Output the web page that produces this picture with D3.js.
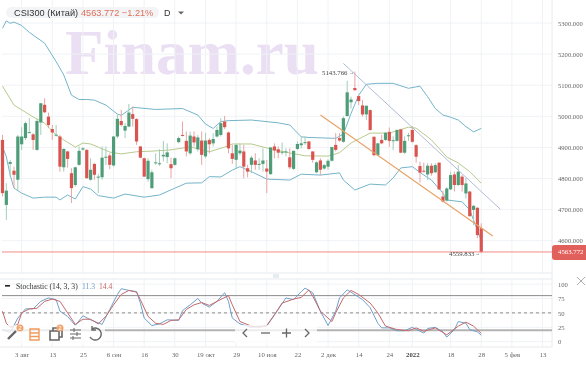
<!DOCTYPE html>
<html>
<head>
<meta charset="utf-8">
<script src="https://cdn.jsdelivr.net/npm/d3@7"></script>
<style>
    html, body { margin: 0; padding: 0; background: #fff; overflow: hidden; }
    svg { display: block; filter: blur(0.4px); }
    .serif { font-family: "Liberation Serif", serif; }
    .sans { font-family: "Liberation Sans", sans-serif; }
</style>
</head>
<body>
<div id="chart"></div>
<script>
const opens = [4924,4715,4847,4825,4796,4910,4930,4947,4942,4892,4980,5037,4999,4959,4939,4935,4836,4887,4817,4779,4844,4893,4892,4796,4847,4804,4804,4868,4874,4842,4935,4985,4954,4967,5007,4991,4903,4865,4798,4769,4849,4847,4871,4869,4846,4844,4917,4940,4921,4881,4935,4894,4922,4871,4924,4913,4935,4940,4983,4948,4881,4860,4881,4887,4833,4844,4858,4845,4847,4832,4814,4903,4894,4884,4885,4868,4831,4895,4907,4915,4919,4887,4820,4858,4832,4838,4857,4908,4930,4918,5001,5045,5091,5065,5035,5006,5020,4934,4875,4924,4924,4950,4921,4921,4958,4883,4936,4956,4907,4840,4825,4813,4841,4820,4851,4742,4729,4765,4813,4779,4806,4752,4758,4699,4706,4640];
const highs = [4940,4785,4860,4838,4940,4965,4983,4994,4946,4991,5042,5058,5012,4972,4972,4940,4897,4889,4833,4838,4903,4901,4894,4865,4849,4815,4903,4903,4881,4937,5005,5021,4978,5040,5031,4994,4905,4867,4865,4828,4881,4894,4921,4913,4867,4868,4935,4983,4951,4951,4951,4940,4951,4946,4930,4946,4967,4994,5001,4951,4908,4911,4913,4908,4844,4873,4881,4865,4897,4860,4900,4913,4903,4916,4897,4897,4889,4919,4935,4935,4921,4887,4855,4865,4847,4862,4901,4946,4946,5000,5114,5063,5143.766,5068,5052,5034,5022,4936,4915,4940,4950,4964,4936,4958,4960,4936,4947,4969,4910,4854,4851,4849,4849,4849,4851,4761,4772,4822,4822,4843,4811,4801,4760,4715,4707,4656];
const lows = [4742,4667,4806,4769,4763,4892,4924,4946,4892,4889,4940,5010,4962,4924,4935,4822,4822,4835,4721,4774,4841,4890,4799,4793,4796,4753,4796,4844,4830,4838,4930,4967,4930,4965,4967,4908,4865,4806,4790,4767,4844,4841,4855,4849,4801,4841,4913,4935,4871,4876,4903,4887,4844,4865,4881,4903,4932,4935,4959,4881,4847,4833,4874,4801,4804,4817,4828,4828,4822,4753,4812,4865,4865,4876,4871,4830,4828,4892,4897,4908,4892,4851,4817,4810,4828,4828,4855,4887,4919,4915,4999,5025,5082,5036,4999,4988,4954,4872,4872,4910,4921,4902,4891,4919,4881,4879,4921,4915,4851,4787,4819,4795,4809,4817,4763,4723,4726,4763,4758,4776,4758,4736,4677,4650,4608,4559.833];
const closes = [4753,4761,4853,4812,4935,4935,4978,4949,4924,4985,5042,5013,4972,4948,4941,4838,4895,4863,4769,4836,4889,4897,4801,4828,4812,4806,4867,4870,4844,4935,4992,4972,4969,5012,4992,4919,4867,4806,4857,4820,4852,4849,4876,4884,4833,4865,4930,4938,4887,4938,4916,4932,4876,4922,4910,4927,4956,4978,4965,4897,4863,4908,4890,4838,4822,4867,4844,4847,4858,4822,4900,4890,4883,4886,4887,4836,4889,4911,4913,4917,4895,4860,4852,4828,4843,4857,4901,4892,4922,4994,5077,5054,5084,5049,5006,5034,4956,4875,4913,4913,4947,4921,4923,4956,4883,4921,4939,4918,4870,4819,4823,4841,4817,4843,4765,4726,4768,4811,4779,4822,4779,4784,4679,4712,4618,4563.772];

const upperIdx = [0,1,2,3,5,7,11,14,16,18,20,22,24,27,30,31,34,40,47,51,53,55,57,59,65,72,75,78,80,87,89,91,93,95,98,102,106,109,111,113,115,117,119,121,123,125];
const upperVal = [5283,5307,5299,5303,5292,5270,5235,5176,5133,5068,5054,5054,5052,5036,5007,5003,5029,5022,5025,5004,4975,4961,4983,4986,4988,4979,4972,4934,4932,4929,4943,5009,5068,5103,5106,5106,5090,5097,5063,5025,5004,4997,4988,4967,4950,4961];
const middleIdx = [0,3,8,11,14,16,19,21,23,25,28,31,35,39,44,49,54,58,60,65,70,75,79,85,88,91,96,101,106,108,112,116,119,122,125];
const middleVal = [5097,5036,4998,4978,4940,4924,4901,4914,4911,4901,4885,4879,4886,4888,4892,4902,4886,4901,4911,4911,4895,4882,4873,4872,4883,4914,4946,4946,4965,4962,4924,4869,4850,4822,4785];
const lowerIdx = [0,1,2,3,5,8,11,14,15,17,19,21,23,25,29,32,37,41,45,48,52,54,57,60,62,65,69,75,78,83,88,89,92,96,100,102,104,107,110,112,115,116,120,122,123,124,125];
const lowerVal = [4902,4870,4811,4769,4753,4737,4740,4740,4731,4747,4734,4774,4766,4745,4737,4750,4740,4747,4769,4785,4786,4806,4805,4827,4838,4822,4798,4795,4814,4811,4818,4795,4763,4782,4779,4802,4834,4838,4811,4795,4753,4731,4725,4699,4666,4634,4600];

const kIdx = [0,2,4,6,8,10,12,14,15,17,19,21,23,26,28,30,31,33,35,36,37,39,41,43,46,47,49,51,52,54,56,58,59,60,62,65,67,69,72,74,76,78,79,81,83,85,87,88,90,91,94,96,98,99,101,103,105,107,110,111,113,115,116,118,119,121,122,124,125];
const kVal = [21,16,41,57,57,70,76,73,53,44,28,45,38,30,56,82,92,89,87,67,41,28,31,38,37,54,64,75,67,60,70,85,70,41,31,25,27,27,56,76,73,87,93,85,53,28,53,76,90,86,73,59,32,24,24,19,19,25,15,23,25,17,8,21,35,32,21,17,11.3];
const dIdx = [0,1,2,4,5,7,9,11,13,15,17,19,21,23,25,27,29,31,33,35,36,38,40,42,44,46,48,50,52,54,56,59,60,62,65,67,69,71,73,76,78,80,81,83,86,87,89,91,93,96,98,100,103,106,108,110,113,116,119,121,123,125];
const dVal = [53,32,25,30,50,57,58,70,74,70,50,30,39,39,31,44,64,82,89,86,73,44,32,30,37,38,56,64,68,63,70,80,64,35,27,25,28,47,67,74,77,90,79,53,35,50,76,89,82,67,50,27,21,19,24,18,24,12,27,34,27,14.4];

const priceTicks = [5300,5200,5100,5000,4900,4800,4700,4600];
const stochTicks = [100,75,50,25,0];
const stochLevels = [80,50,20];
const dateIdx = [5,13,21,29,37,45,53,61,69,77,85,93,101,107,117,125,133,141];
const dateLabels = ["3 авг","13","25","6 сен","16","30","19 окт","29","10 ноя","22","2 дек","14","24","2022","18","28","5 фев","13"];

const channelTop = [[89,5170],[130,4701]];
const channelBottom = [[83,5004],[128,4615]];
const lastPrice = 4563.772, maxPrice = 5143.766, minPrice = 4559.833;

const width = 586, height = 368;
const plotLeft = 2, plotRight = 552, mainBottom = 273, stochTop = 279, stochBottom = 347;
const tickFont = "6.6px", tickColor = "#666";

const green = "#4e9d78", greenWick = "#a3cdb8", red = "#d9544f", redWick = "#e8a5a2";

const svg = d3.select("#chart").append("svg")
    .attr("width", width)
    .attr("height", height);

const x = d3.scaleLinear().domain([0, 125]).range([2.5, 481.25]);
const y = d3.scaleLinear().domain([4600, 5300]).range([240.7, 23]);
const yS = d3.scaleLinear().domain([0, 100]).range([341.7, 284.1]);

// watermark sits under everything
svg.append("text")
    .attr("class", "serif")
    .attr("x", 65).attr("y", 74)
    .attr("font-size", 63).attr("font-weight", "bold")
    .attr("fill", "#eadff3")
    .text("Finam.ru");

// grid
const grid = svg.append("g").attr("stroke", "#f0f2f5").attr("stroke-width", 1);
grid.selectAll(".gx").data(dateIdx).enter().append("line")
    .attr("x1", d => x(d)).attr("x2", d => x(d))
    .attr("y1", 0).attr("y2", mainBottom);
grid.selectAll(".gx2").data(dateIdx).enter().append("line")
    .attr("x1", d => x(d)).attr("x2", d => x(d))
    .attr("y1", stochTop).attr("y2", stochBottom);
grid.selectAll(".gy").data(priceTicks).enter().append("line")
    .attr("x1", plotLeft).attr("x2", plotRight)
    .attr("y1", d => y(d)).attr("y2", d => y(d));
grid.selectAll(".gy2").data(stochTicks).enter().append("line")
    .attr("x1", plotLeft).attr("x2", plotRight)
    .attr("y1", d => yS(d)).attr("y2", d => yS(d));

// panel frames
const frame = svg.append("g").attr("stroke", "#e8eaee").attr("fill", "none");
frame.append("line").attr("x1", 0).attr("x2", plotRight).attr("y1", mainBottom).attr("y2", mainBottom);
frame.append("line").attr("x1", 0).attr("x2", plotRight).attr("y1", stochTop).attr("y2", stochTop);
frame.append("line").attr("x1", 0).attr("x2", plotRight).attr("y1", stochBottom).attr("y2", stochBottom);
frame.append("line").attr("x1", plotRight).attr("x2", plotRight).attr("y1", 0).attr("y2", stochBottom);
svg.append("rect").attr("x", 273).attr("y", 274).attr("width", 6).attr("height", 4).attr("fill", "#e6ecf0");

// bollinger bands
function drawLine(g, idx, vals, scale, color, w) {
    const line = d3.line().x(d => x(d[0])).y(d => scale(d[1]));
    g.append("path")
        .attr("d", line(idx.map((d, i) => [d, vals[i]])))
        .attr("fill", "none")
        .attr("stroke", color)
        .attr("stroke-width", w);
}
drawLine(svg, upperIdx, upperVal, y, "#74b4c9", 1);
drawLine(svg, middleIdx, middleVal, y, "#b6ca8c", 1);
drawLine(svg, lowerIdx, lowerVal, y, "#74b4c9", 1);

// candles
const candles = svg.append("g");
candles.selectAll(".wick").data(opens).enter().append("line")
    .attr("x1", (d, i) => x(i)).attr("x2", (d, i) => x(i))
    .attr("y1", (d, i) => y(highs[i])).attr("y2", (d, i) => y(lows[i]))
    .attr("stroke", (d, i) => closes[i] >= d ? greenWick : redWick);
candles.selectAll(".body").data(opens).enter().append("rect")
    .attr("x", (d, i) => x(i) - 1.6)
    .attr("width", 3.2)
    .attr("y", (d, i) => y(Math.max(d, closes[i])))
    .attr("height", (d, i) => Math.max(1, Math.abs(y(d) - y(closes[i]))))
    .attr("fill", (d, i) => closes[i] >= d ? green : red);

// drawn trend channel
drawLine(svg, channelTop.map(d => d[0]), channelTop.map(d => d[1]), y, "#aebbd6", 1);
drawLine(svg, channelBottom.map(d => d[0]), channelBottom.map(d => d[1]), y, "#e8a468", 1.2);

// last price line
svg.append("line")
    .attr("x1", plotLeft).attr("x2", plotRight)
    .attr("y1", y(lastPrice)).attr("y2", y(lastPrice))
    .attr("stroke", "#f08a86").attr("stroke-width", 1);

// price axis
const axisPrice = svg.append("g")
    .attr("class", "serif")
    .attr("transform", `translate(${plotRight},0)`)
    .call(d3.axisRight(y).tickValues(priceTicks).tickFormat(d3.format(".3f")).tickSize(0).tickPadding(6));
axisPrice.select(".domain").remove();
axisPrice.selectAll("text").attr("fill", tickColor).style("font-size", tickFont).attr("font-family", "Liberation Serif");

svg.append("path")
    .attr("d", "M552 248q0-3 3-3H586V260H555q-3 0-3-3Z")
    .attr("fill", "#e2605c");
svg.append("text").attr("class", "serif")
    .attr("x", 558).attr("y", y(lastPrice) + 2.5)
    .attr("font-size", 6.8).attr("fill", "#fff")
    .text(d3.format(".3f")(lastPrice));

// high and low markers
svg.append("text").attr("class", "serif")
    .attr("x", 322).attr("y", y(maxPrice) + 3)
    .attr("font-size", 6.8).attr("fill", "#444")
    .text(d3.format(".3f")(maxPrice));
svg.append("text").attr("class", "serif")
    .attr("x", 449).attr("y", y(minPrice) + 3)
    .attr("font-size", 6.8).attr("fill", "#444")
    .text(d3.format(".3f")(minPrice));
svg.append("text").attr("class", "sans").attr("x", 349).attr("y", y(maxPrice) + 2)
    .attr("font-size", 5).attr("fill", "#444").text("→");
svg.append("text").attr("class", "sans").attr("x", 475).attr("y", y(minPrice) + 2)
    .attr("font-size", 5).attr("fill", "#444").text("→");

// header
svg.append("rect").attr("x", 6).attr("y", 7).attr("width", 153).attr("height", 11)
    .attr("rx", 5.5).attr("fill", "#f3f4f6");
svg.append("text").attr("class", "sans").attr("x", 14).attr("y", 15.8)
    .attr("font-size", 9.2).attr("fill", "#333").text("CSI300 (Китай)");
svg.append("text").attr("class", "sans").attr("x", 81).attr("y", 15.8)
    .attr("font-size", 9.2).attr("fill", "#e0705c").text("4563.772 −1.21%");
svg.append("text").attr("class", "sans").attr("x", 164).attr("y", 15.8)
    .attr("font-size", 9).attr("fill", "#333").text("D");
svg.append("path").attr("d", "M178 11.5h6l-3 3Z").attr("fill", "#666");

// stochastic levels
svg.selectAll(".level").data(stochLevels).enter().append("line")
    .attr("x1", plotLeft).attr("x2", plotRight)
    .attr("y1", d => yS(d)).attr("y2", d => yS(d))
    .attr("stroke", d => d === 20 ? "#b3b3b3" : "#8c8c8c")
    .attr("stroke-width", d => d === 20 ? 2 : 1)
    .attr("stroke-dasharray", d => d === 50 ? "3 3" : null);

drawLine(svg, kIdx, kVal, yS, "#6f9fcb", 1);
drawLine(svg, dIdx, dVal, yS, "#c4696a", 1);

// stochastic axis and legend
const axisStoch = svg.append("g")
    .attr("class", "serif")
    .attr("transform", `translate(${plotRight},0)`)
    .call(d3.axisRight(yS).tickValues(stochTicks).tickSize(0).tickPadding(6));
axisStoch.select(".domain").remove();
axisStoch.selectAll("text").attr("fill", tickColor).style("font-size", tickFont).attr("font-family", "Liberation Serif");

svg.append("rect").attr("x", 5).attr("y", 285).attr("width", 5).attr("height", 1.6).attr("fill", "#222");
svg.append("text").attr("class", "serif").attr("x", 16).attr("y", 289)
    .attr("font-size", 7.7).attr("fill", "#333").text("Stochastic (14, 3, 3)");
svg.append("text").attr("class", "serif").attr("x", 82).attr("y", 289)
    .attr("font-size", 7.7).attr("fill", "#6f9fcb").text("11.3");
svg.append("text").attr("class", "serif").attr("x", 99).attr("y", 289)
    .attr("font-size", 7.7).attr("fill", "#c4696a").text("14.4");

svg.append("g").attr("stroke", "#999").attr("stroke-width", 0.8)
    .selectAll("line").data([[577, 277, 585, 285], [585, 277, 577, 285]]).enter().append("line")
    .attr("x1", d => d[0]).attr("y1", d => d[1]).attr("x2", d => d[2]).attr("y2", d => d[3]);

// date axis
const axisDate = svg.append("g")
    .attr("class", "serif")
    .attr("transform", "translate(0,351)")
    .call(d3.axisBottom(x).tickValues(dateIdx).tickFormat((d, i) => dateLabels[i]).tickSize(0));
axisDate.select(".domain").remove();
axisDate.selectAll("text").style("font-size", "6.8px").attr("font-family", "Liberation Serif")
    .attr("dy", "0.5em")
    .attr("font-weight", (d, i) => dateLabels[i] === "2022" ? "bold" : null)
    .attr("fill", (d, i) => dateLabels[i] === "2022" ? "#444" : tickColor);

// toolbar overlays
svg.append("rect").attr("x", 0).attr("y", 325).attr("width", 105).attr("height", 18).attr("fill", "#fff").attr("opacity", 0.75);
svg.append("rect").attr("x", 235).attr("y", 325).attr("width", 82).attr("height", 18).attr("fill", "#fff").attr("opacity", 0.75);

const tools = svg.append("g").attr("fill", "none").attr("stroke", "#666").attr("stroke-width", 1.4);
tools.append("path").attr("d", "M8 339L16 331").attr("stroke-width", 2.4);
tools.append("path").attr("d", "M30 329h9v11h-9ZM30 333h9M30 336.5h9").attr("stroke", "#ef9a5a");
tools.append("path").attr("d", "M50 331h9v9h-9ZM53 331v-3h9v9h-3").attr("stroke-width", 1.6);
tools.append("path").attr("d", "M70 330h11M70 334h11M70 338h11M74 328v4M77 332v4M73 336v4").attr("stroke-width", 1);
tools.append("path").attr("d", "M92 329a6 6 0 1 1 -2 8M92 326v4h4");
const nav = svg.append("g").attr("fill", "none").attr("stroke", "#666").attr("stroke-width", 1.3);
nav.append("path").attr("d", "M247 329l-4 4 4 4");
nav.append("path").attr("d", "M261 333h9");
nav.append("path").attr("d", "M282 333h9M286.5 328.5v9");
nav.append("path").attr("d", "M305 329l4 4-4 4");

// orange badges
const badges = [[20, 328], [60, 328]];
svg.selectAll(".badge").data(badges).enter().append("circle")
    .attr("cx", d => d[0]).attr("cy", d => d[1]).attr("r", 3.5).attr("fill", "#f0a56e");
svg.selectAll(".badgeText").data(badges).enter().append("text")
    .attr("class", "sans").attr("x", d => d[0] - 1.7).attr("y", d => d[1] + 2.2)
    .attr("font-size", 6).attr("fill", "#fff").text("2");
</script>
</body>
</html>
